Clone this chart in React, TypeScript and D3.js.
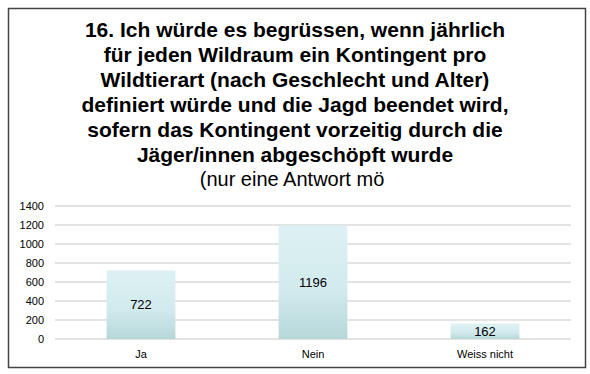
import React from 'react'
import * as d3 from 'd3'

const titleLines = [
  '16. Ich würde es begrüssen, wenn jährlich',
  'für jeden Wildraum ein Kontingent pro',
  'Wildtierart (nach Geschlecht und Alter)',
  'definiert würde und die Jagd beendet wird,',
  'sofern das Kontingent vorzeitig durch die',
  'Jäger/innen abgeschöpft wurde',
]
const subtitle = '(nur eine Antwort mö'

const categories = ['Ja', 'Nein', 'Weiss nicht']
const counts = [722, 1196, 162]
const yTicks = [0, 200, 400, 600, 800, 1000, 1200, 1400]

const W = 590
const H = 374

function drawChart(svgRef: React.RefObject<SVGSVGElement>) {
  const svg = d3.select(svgRef.current)
  svg.selectAll('*').remove()
  svg.attr('width', W).attr('height', H).attr('viewBox', [0, 0, W, H])
    .style('position', 'absolute').style('left', 0).style('top', 0)

  const font = 'Liberation Sans, Arial, sans-serif'

  const defs = svg.append('defs')
  const grad = defs.append('linearGradient')
    .attr('id', 'barGrad').attr('x1', 0).attr('y1', 0).attr('x2', 0).attr('y2', 1)
  grad.append('stop').attr('offset', '0%').attr('stop-color', '#ddf1f4')
  grad.append('stop').attr('offset', '55%').attr('stop-color', '#d3ebee')
  grad.append('stop').attr('offset', '100%').attr('stop-color', '#b6d7d9')

  svg.append('rect')
    .attr('width', W).attr('height', H).attr('fill', '#fff')

  // frame
  svg.append('rect')
    .attr('x', 8.5).attr('y', 8.5).attr('width', 577).attr('height', 359)
    .attr('fill', '#fff').attr('stroke', '#444').attr('stroke-width', 1.5)

  svg.append('g')
    .attr('font-family', font).attr('text-anchor', 'middle').attr('fill', '#000')
    .selectAll('text')
    .data(titleLines)
    .join('text')
      .attr('x', 295)
      .attr('y', (_, i) => 37 + i * 25)
      .attr('font-size', 21)
      .attr('font-weight', 'bold')
      .text(d => d)

  svg.append('text')
    .attr('font-family', font).attr('text-anchor', 'middle')
    .attr('x', 292).attr('y', 186)
    .attr('font-size', 20)
    .text(subtitle)

  const x = d3.scaleBand<string>()
    .domain(categories)
    .range([55, 571])
    .paddingInner(0.6)
    .paddingOuter(0.3)

  const y = d3.scaleLinear()
    .domain([0, 1400])
    .range([339, 206])

  svg.append('g')
    .selectAll('line')
    .data(yTicks)
    .join('line')
      .attr('x1', 55).attr('x2', 571)
      .attr('y1', d => y(d)).attr('y2', d => y(d))
      .attr('stroke', '#dadada').attr('stroke-width', 1.3)

  svg.append('g')
    .attr('font-family', font).attr('font-size', 11).attr('text-anchor', 'end')
    .selectAll('text')
    .data(yTicks)
    .join('text')
      .attr('x', 44)
      .attr('y', d => y(d))
      .attr('dy', '0.35em')
      .text(d => d)

  svg.append('g')
    .selectAll('rect')
    .data(counts)
    .join('rect')
      .attr('x', (_, i) => x(categories[i])!)
      .attr('width', x.bandwidth())
      .attr('y', d => y(d))
      .attr('height', d => y(0) - y(d))
      .attr('fill', 'url(#barGrad)')

  svg.append('g')
    .attr('font-family', font).attr('font-size', 13).attr('text-anchor', 'middle')
    .selectAll('text')
    .data(counts)
    .join('text')
      .attr('x', (_, i) => x(categories[i])! + x.bandwidth() / 2)
      .attr('y', d => (y(d) + y(0)) / 2)
      .attr('dy', '0.35em')
      .text(d => d)

  svg.append('g')
    .attr('font-family', font).attr('font-size', 11).attr('text-anchor', 'middle')
    .selectAll('text')
    .data(categories)
    .join('text')
      .attr('x', d => x(d)! + x.bandwidth() / 2)
      .attr('y', 354)
      .attr('dy', '0.35em')
      .text(d => d)

  return svg.node()
}

const App: React.FunctionComponent = () => {
  const svg = React.useRef<SVGSVGElement>(null)

  React.useEffect(() => {
    drawChart(svg)
  }, [svg])

  return (
    <div id="chart">
      <svg ref={svg} />
    </div>
  )
}

export default App
